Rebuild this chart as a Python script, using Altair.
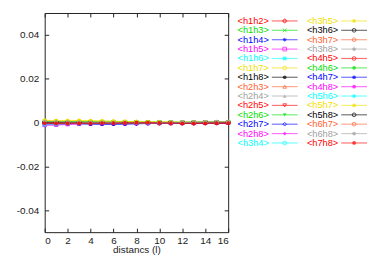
import altair as alt
import pandas as pd

# ---- data ----
series = ["h1h2","h1h3","h1h4","h1h5","h1h6","h1h7","h1h8","h2h3","h2h4","h2h5",
          "h2h6","h2h7","h2h8","h3h4","h3h5","h3h6","h3h7","h3h8","h4h5","h4h6",
          "h4h7","h4h8","h5h6","h5h7","h5h8","h6h7","h6h8","h7h8"]
colors = ["#ff0000","#00e000","#0000ff","#ff00ff","#00ffff","#f0e000","#000000","#ff6030","#a0a0a0",
          "#ff0000","#00e000","#0000ff","#ff00ff","#00ffff","#f0e000","#000000","#ff6030","#a0a0a0",
          "#ff0000","#00e000","#0000ff","#ff00ff","#00ffff","#f0e000","#000000","#ff6030","#a0a0a0",
          "#ff0000"]
distances = [0,1,2,3,4,5,6,7,8,9,10,11,12,13,14,15,16]
values = {
 "h1h2": [0.0003,0.0002,0.0001,0.0000,-0.0001,-0.0002,-0.0002,-0.0002,-0.0001,-0.0001,-0.0002,-0.0002,-0.0002,-0.0002,-0.0001,-0.0001,0.0000],
 "h1h3": [0.0004,0.0003,0.0003,0.0002,0.0002,0.0001,0.0001,0.0001,0.0001,0.0000,0.0000,0.0000,0.0000,0.0001,0.0001,0.0001,0.0001],
 "h1h4": [-0.0002,-0.0003,-0.0004,-0.0005,-0.0006,-0.0006,-0.0006,-0.0006,-0.0005,-0.0004,-0.0003,-0.0003,-0.0002,-0.0002,-0.0001,-0.0001,0.0000],
 "h1h5": [-0.0010,-0.0009,-0.0006,-0.0004,-0.0003,-0.0003,-0.0002,-0.0002,-0.0002,-0.0001,-0.0001,-0.0001,-0.0001,-0.0001,0.0000,0.0000,0.0000],
 "h1h6": [-0.0008,-0.0008,-0.0005,-0.0003,-0.0002,-0.0002,-0.0001,-0.0001,-0.0001,-0.0001,0.0000,0.0000,0.0000,0.0000,0.0000,0.0001,0.0001],
 "h1h7": [0.0008,0.0007,0.0007,0.0008,0.0007,0.0006,0.0005,0.0004,0.0003,0.0002,0.0002,0.0001,0.0001,0.0001,0.0001,0.0002,0.0002],
 "h1h8": [0.0001,0.0001,0.0000,0.0000,-0.0001,-0.0001,-0.0001,-0.0001,0.0000,0.0000,0.0000,-0.0001,-0.0001,0.0000,0.0000,0.0000,0.0000],
 "h2h3": [0.0000,-0.0001,-0.0001,-0.0002,-0.0002,-0.0002,-0.0001,-0.0001,0.0000,0.0000,-0.0001,-0.0001,-0.0001,-0.0001,0.0000,0.0000,0.0000],
 "h2h4": [0.0005,0.0004,0.0003,0.0002,0.0002,0.0001,0.0000,-0.0001,-0.0001,-0.0001,-0.0001,-0.0001,0.0000,0.0001,0.0002,0.0002,0.0003],
 "h2h5": [-0.0004,-0.0004,-0.0003,-0.0002,-0.0002,-0.0002,-0.0003,-0.0003,-0.0002,-0.0001,-0.0001,-0.0002,-0.0002,-0.0002,-0.0001,-0.0001,-0.0001],
 "h2h6": [0.0003,0.0003,0.0003,0.0003,0.0003,0.0002,0.0002,0.0002,0.0002,0.0001,0.0001,0.0001,0.0000,0.0000,0.0001,0.0001,0.0002],
 "h2h7": [-0.0001,-0.0002,-0.0003,-0.0004,-0.0005,-0.0006,-0.0006,-0.0005,-0.0004,-0.0003,-0.0003,-0.0002,-0.0002,-0.0002,-0.0001,-0.0001,-0.0001],
 "h2h8": [-0.0012,-0.0011,-0.0008,-0.0005,-0.0004,-0.0003,-0.0003,-0.0002,-0.0002,-0.0002,-0.0001,-0.0001,-0.0001,-0.0001,-0.0001,0.0000,0.0000],
 "h3h4": [-0.0010,-0.0008,-0.0005,-0.0003,-0.0002,-0.0001,-0.0001,0.0000,0.0000,0.0000,0.0000,0.0000,0.0000,0.0000,0.0001,0.0001,0.0001],
 "h3h5": [0.0009,0.0008,0.0008,0.0008,0.0008,0.0007,0.0006,0.0005,0.0004,0.0003,0.0002,0.0002,0.0002,0.0002,0.0002,0.0003,0.0003],
 "h3h6": [0.0002,0.0001,0.0001,0.0000,0.0000,-0.0001,-0.0001,-0.0001,-0.0001,-0.0001,0.0000,0.0000,0.0000,0.0000,0.0001,0.0001,0.0001],
 "h3h7": [-0.0001,-0.0001,-0.0002,-0.0002,-0.0003,-0.0003,-0.0002,-0.0002,-0.0001,-0.0001,-0.0001,-0.0001,-0.0002,-0.0002,-0.0001,-0.0001,-0.0001],
 "h3h8": [0.0006,0.0005,0.0004,0.0003,0.0002,0.0001,0.0000,-0.0001,-0.0001,-0.0001,-0.0001,0.0000,0.0000,0.0001,0.0002,0.0003,0.0003],
 "h4h5": [-0.0002,-0.0003,-0.0003,-0.0003,-0.0003,-0.0002,-0.0002,-0.0002,-0.0001,-0.0001,-0.0002,-0.0002,-0.0002,-0.0002,-0.0002,-0.0001,-0.0001],
 "h4h6": [0.0004,0.0004,0.0004,0.0004,0.0003,0.0003,0.0003,0.0002,0.0002,0.0002,0.0001,0.0001,0.0001,0.0001,0.0002,0.0002,0.0002],
 "h4h7": [-0.0003,-0.0004,-0.0004,-0.0005,-0.0006,-0.0007,-0.0007,-0.0006,-0.0005,-0.0004,-0.0003,-0.0003,-0.0002,-0.0002,-0.0002,-0.0001,-0.0001],
 "h4h8": [-0.0009,-0.0009,-0.0007,-0.0004,-0.0003,-0.0003,-0.0002,-0.0002,-0.0002,-0.0001,-0.0001,-0.0001,-0.0001,-0.0001,0.0000,0.0000,0.0000],
 "h5h6": [-0.0007,-0.0006,-0.0004,-0.0002,-0.0001,-0.0001,0.0000,0.0000,0.0000,0.0000,0.0000,0.0000,0.0001,0.0001,0.0001,0.0001,0.0001],
 "h5h7": [0.0010,0.0009,0.0009,0.0009,0.0008,0.0007,0.0006,0.0005,0.0004,0.0003,0.0003,0.0002,0.0002,0.0002,0.0003,0.0003,0.0004],
 "h5h8": [0.0000,0.0000,-0.0001,-0.0001,-0.0001,-0.0002,-0.0002,-0.0001,-0.0001,0.0000,0.0000,0.0000,-0.0001,-0.0001,0.0000,0.0000,0.0000],
 "h6h7": [-0.0002,-0.0002,-0.0002,-0.0003,-0.0003,-0.0003,-0.0003,-0.0002,-0.0002,-0.0001,-0.0001,-0.0002,-0.0002,-0.0002,-0.0002,-0.0001,-0.0001],
 "h6h8": [0.0004,0.0003,0.0003,0.0002,0.0001,0.0001,0.0000,0.0000,-0.0001,-0.0001,0.0000,0.0000,0.0001,0.0001,0.0002,0.0003,0.0004],
 "h7h8": [-0.0003,-0.0004,-0.0004,-0.0003,-0.0003,-0.0002,-0.0002,-0.0001,0.0000,0.0000,-0.0001,-0.0002,-0.0003,-0.0003,-0.0003,-0.0002,-0.0002],
}
shapes = ["cross","M-1,-1L1,1M-1,1L1,-1","M-1,0L1,0M0,-1L0,1M-0.7,-0.7L0.7,0.7M-0.7,0.7L0.7,-0.7",
          "square","square","circle","circle","triangle-up","triangle-up","triangle-down","triangle-down",
          "diamond","diamond","circle","circle","circle","circle","circle","circle","circle",
          "circle","circle","circle","circle","circle","circle","circle","circle"]
filled = [0,0,0,0,1,0,1,0,1,0,1,0,1,0,1,0,0,1,0,1,1,1,1,1,0,0,1,1]
y_ticks = [-0.04, -0.02, 0, 0.02, 0.04]
x_ticks = [0, 2, 4, 6, 8, 10, 12, 14, 16]

# ---- tables ----
rows = []
for i, s in enumerate(series):
    for d, v in zip(distances, values[s]):
        rows.append({"series": s, "x": d, "y": v, "filled": filled[i]})
df = pd.DataFrame(rows)

leg = pd.DataFrame({
    "series": series,
    "label": ["<" + s + ">" for s in series],
    "col": [i // 14 for i in range(len(series))],
    "row": [i % 14 for i in range(len(series))],
    "filled": filled,
})

FONT = "Liberation Sans"
INK = "#222"
color_scale = alt.Scale(domain=series, range=colors)
shape_scale = alt.Scale(domain=series, range=shapes)
col = alt.Color("series:N", scale=color_scale, legend=None)
shp = alt.Shape("series:N", scale=shape_scale, legend=None)

xs = alt.Scale(domain=[0, 16], nice=False, zero=False)
ys = alt.Scale(domain=[-0.05, 0.05], nice=False)

lab_expr = "datum.value == 0 ? '0' : replace(format(datum.value, '.2f'), '\u2212', '-')"
ax_common = dict(offset=-4, tickSize=4, domain=False, grid=False, tickColor=INK,
                 labelFont=FONT, labelFontSize=10, labelColor=INK,
                 titleFont=FONT, titleFontSize=10, titleFontWeight="normal", titleColor=INK)

base = alt.Chart(df)
lines = base.mark_line(strokeWidth=1.2, opacity=0.55).encode(
    x=alt.X("x:Q", scale=xs, axis=alt.Axis(values=x_ticks, title="distancs (l)", labelPadding=3,
                                            titlePadding=0, **ax_common)),
    y=alt.Y("y:Q", scale=ys, axis=alt.Axis(values=y_ticks, title=None, labelExpr=lab_expr,
                                            labelPadding=6, **ax_common)),
    color=col, detail="series:N", order="x:Q",
)
pts_open = base.mark_point(filled=False, size=14, strokeWidth=1, opacity=0.9).encode(
    x=alt.X("x:Q", scale=xs, axis=None), y=alt.Y("y:Q", scale=ys, axis=None), color=col, shape=shp,
).transform_filter("datum.filled == 0")
pts_fill = base.mark_point(filled=True, size=14, opacity=0.9).encode(
    x=alt.X("x:Q", scale=xs, axis=None), y=alt.Y("y:Q", scale=ys, axis=None), color=col, shape=shp,
).transform_filter("datum.filled == 1")
mirror = base.mark_point(opacity=0).encode(
    x=alt.X("x:Q", scale=xs, axis=alt.Axis(orient="top", values=x_ticks, labels=False, title="",
                                            offset=-4, tickSize=4, domain=False, grid=False, tickColor=INK)),
    y=alt.Y("y:Q", scale=ys, axis=alt.Axis(orient="right", values=y_ticks, labels=False, title="",
                                            offset=-4, tickSize=4, domain=False, grid=False, tickColor=INK)),
)
main = alt.layer(lines, pts_open, pts_fill, mirror).resolve_axis(
    x="independent", y="independent"
).properties(width=185, height=221, view=alt.ViewConfig(stroke=INK, strokeWidth=1))

# legend panel
lx = alt.Scale(domain=[-0.743, 1.2], nice=False, zero=False)
ly = alt.Scale(domain=[-0.846, 13.1], nice=False, zero=False, reverse=True)
lbase = alt.Chart(leg)
lrule = lbase.mark_rule(xOffset=-13, x2Offset=13, strokeWidth=1.2, opacity=0.55).encode(
    x=alt.X("col:Q", scale=lx, axis=None), x2="col:Q",
    y=alt.Y("row:Q", scale=ly, axis=None), color=col,
)
lp_open = lbase.mark_point(filled=False, size=14, strokeWidth=1).encode(
    x=alt.X("col:Q", scale=lx, axis=None), y=alt.Y("row:Q", scale=ly, axis=None), color=col, shape=shp,
).transform_filter("datum.filled == 0")
lp_fill = lbase.mark_point(filled=True, size=14).encode(
    x=alt.X("col:Q", scale=lx, axis=None), y=alt.Y("row:Q", scale=ly, axis=None), color=col, shape=shp,
).transform_filter("datum.filled == 1")
ltext = lbase.mark_text(align="right", baseline="middle", dx=-16, font=FONT, fontSize=9.3).encode(
    x=alt.X("col:Q", scale=lx, axis=None), y=alt.Y("row:Q", scale=ly, axis=None),
    text="label:N", color=col,
)
legend = alt.layer(lrule, lp_open, lp_fill, ltext).properties(
    width=136, height=132, view=alt.ViewConfig(stroke=None)
)

chart = alt.hconcat(main, legend, spacing=0).properties(
    padding={"left": 7, "top": 3, "right": 0, "bottom": 0}
)

chart.save("out.html", embed_options={"renderer": "svg", "actions": False})
